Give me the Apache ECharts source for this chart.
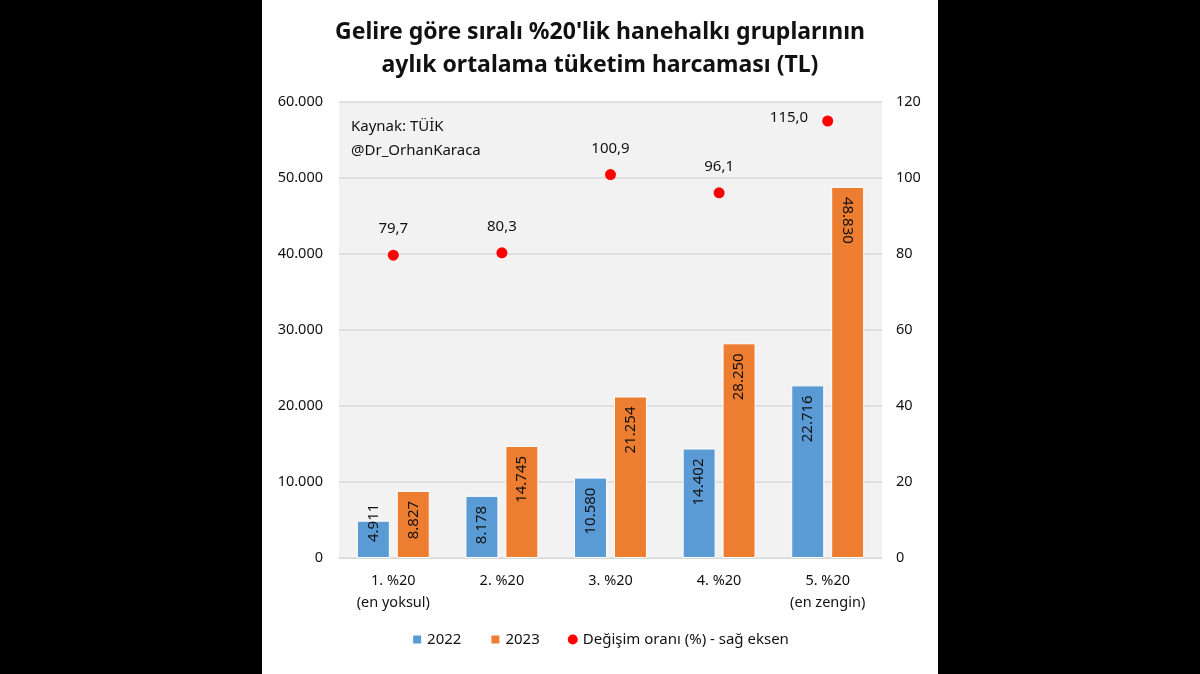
<!DOCTYPE html>
<html><head><meta charset="utf-8">
<script src="https://cdn.jsdelivr.net/npm/echarts@6/dist/echarts.min.js"></script>
<style>
html,body{margin:0;padding:0;background:#000;width:1200px;height:674px;overflow:hidden}
#c{position:absolute;left:262px;top:0;width:676px;height:674px;background:#fff}
</style></head><body>
<div id="c"></div>
<script>
const categories = ['1. %20\n(en yoksul)', '2. %20', '3. %20', '4. %20', '5. %20\n(en zengin)'];
const values2022 = [4911, 8178, 10580, 14402, 22716];
const values2023 = [8827, 14745, 21254, 28250, 48830];
const changePct = [79.7, 80.3, 100.9, 96.1, 115.0];
const seriesNames = ['2022', '2023', 'Değişim oranı (%) - sağ eksen'];
const titleText = "Gelire göre sıralı %20'lik hanehalkı gruplarının\naylık ortalama tüketim harcaması (TL)";
const noteLines = ['Kaynak: TÜİK', '@Dr_OrhanKaraca'];

const FONT = 'Noto Sans';
const fmtTL = v => Math.round(v).toString().replace(/\B(?=(\d{3})+(?!\d))/g, '.');
const fmtPct = v => v.toFixed(1).replace('.', ',');

const barLabel = {
  show: true, rotate: 90, position: 'insideTop', distance: 10,
  align: 'right', verticalAlign: 'middle',
  color: '#111', fontFamily: FONT, fontSize: 15,
  formatter: p => fmtTL(p.value)
};

const d2022 = values2022.map((v, i) => i === 0
  ? { value: v, label: { distance: -17 } } : v);
const d2023 = values2023.map((v, i) => i === values2023.length - 1
  ? { value: v, label: { rotate: -90, align: 'left' } } : v);
const dPct = changePct.map((v, i) => i === changePct.length - 1
  ? { value: v, label: { position: 'left', distance: 14, offset: [0, -3] } } : v);

const chart = echarts.init(document.getElementById('c'), null, { renderer: 'canvas' });
chart.setOption({
  animation: false,
  backgroundColor: '#fff',
  title: {
    text: titleText, left: 'center', top: 11,
    textStyle: { fontFamily: FONT, fontWeight: 'bold', fontSize: 23, lineHeight: 33, color: '#111' }
  },
  graphic: [{
    type: 'text', left: 89, top: 115,
    style: { text: noteLines.join('\n'), fontFamily: FONT, fontSize: 15, lineHeight: 24, fill: '#111' }
  }],
  grid: { left: 77, right: 56, top: 102, bottom: 116, show: true, backgroundColor: '#f2f2f2', borderWidth: 0 },
  legend: {
    bottom: 22, left: 'center', itemGap: 28,
    textStyle: { fontFamily: FONT, fontSize: 15, color: '#111' },
    data: [
      { name: seriesNames[0], icon: 'rect', itemStyle: { color: '#5b9bd5' } },
      { name: seriesNames[1], icon: 'rect', itemStyle: { color: '#ed7d31' } },
      { name: seriesNames[2], icon: 'circle', itemStyle: { color: '#ff0000' } }
    ],
    itemWidth: 10, itemHeight: 10
  },
  xAxis: {
    type: 'category', data: categories,
    axisLine: { show: true, lineStyle: { color: '#d9d9d9' } },
    axisTick: { show: false },
    axisLabel: { fontFamily: FONT, fontSize: 14.5, color: '#111', lineHeight: 22, margin: 12 }
  },
  yAxis: [{
    type: 'value', min: 0, max: 60000, interval: 10000,
    axisLine: { show: false }, axisTick: { show: false },
    splitLine: { lineStyle: { color: '#d9d9d9', width: 1.5 } },
    axisLabel: { fontFamily: FONT, fontSize: 14.5, color: '#111', margin: 16, formatter: v => fmtTL(v) }
  }, {
    type: 'value', min: 0, max: 120, interval: 20,
    axisLine: { show: false }, axisTick: { show: false }, splitLine: { show: false },
    axisLabel: { fontFamily: FONT, fontSize: 14.5, color: '#111', margin: 14, align: 'left' }
  }],
  series: [{
    name: seriesNames[0], type: 'bar', data: d2022, barWidth: 33, barGap: '21%',
    itemStyle: { color: '#5b9bd5', borderColor: '#fff', borderWidth: 1 }, label: barLabel
  }, {
    name: seriesNames[1], type: 'bar', data: d2023, barWidth: 33,
    itemStyle: { color: '#ed7d31', borderColor: '#fff', borderWidth: 1 }, label: barLabel
  }, {
    name: seriesNames[2], type: 'scatter', yAxisIndex: 1, data: dPct,
    symbol: 'circle', symbolSize: 11, itemStyle: { color: '#ff0000', opacity: 1 },
    label: { show: true, position: 'top', distance: 13, fontFamily: FONT, fontSize: 15, color: '#111',
      formatter: p => fmtPct(p.value) }
  }]
});
</script></body></html>
